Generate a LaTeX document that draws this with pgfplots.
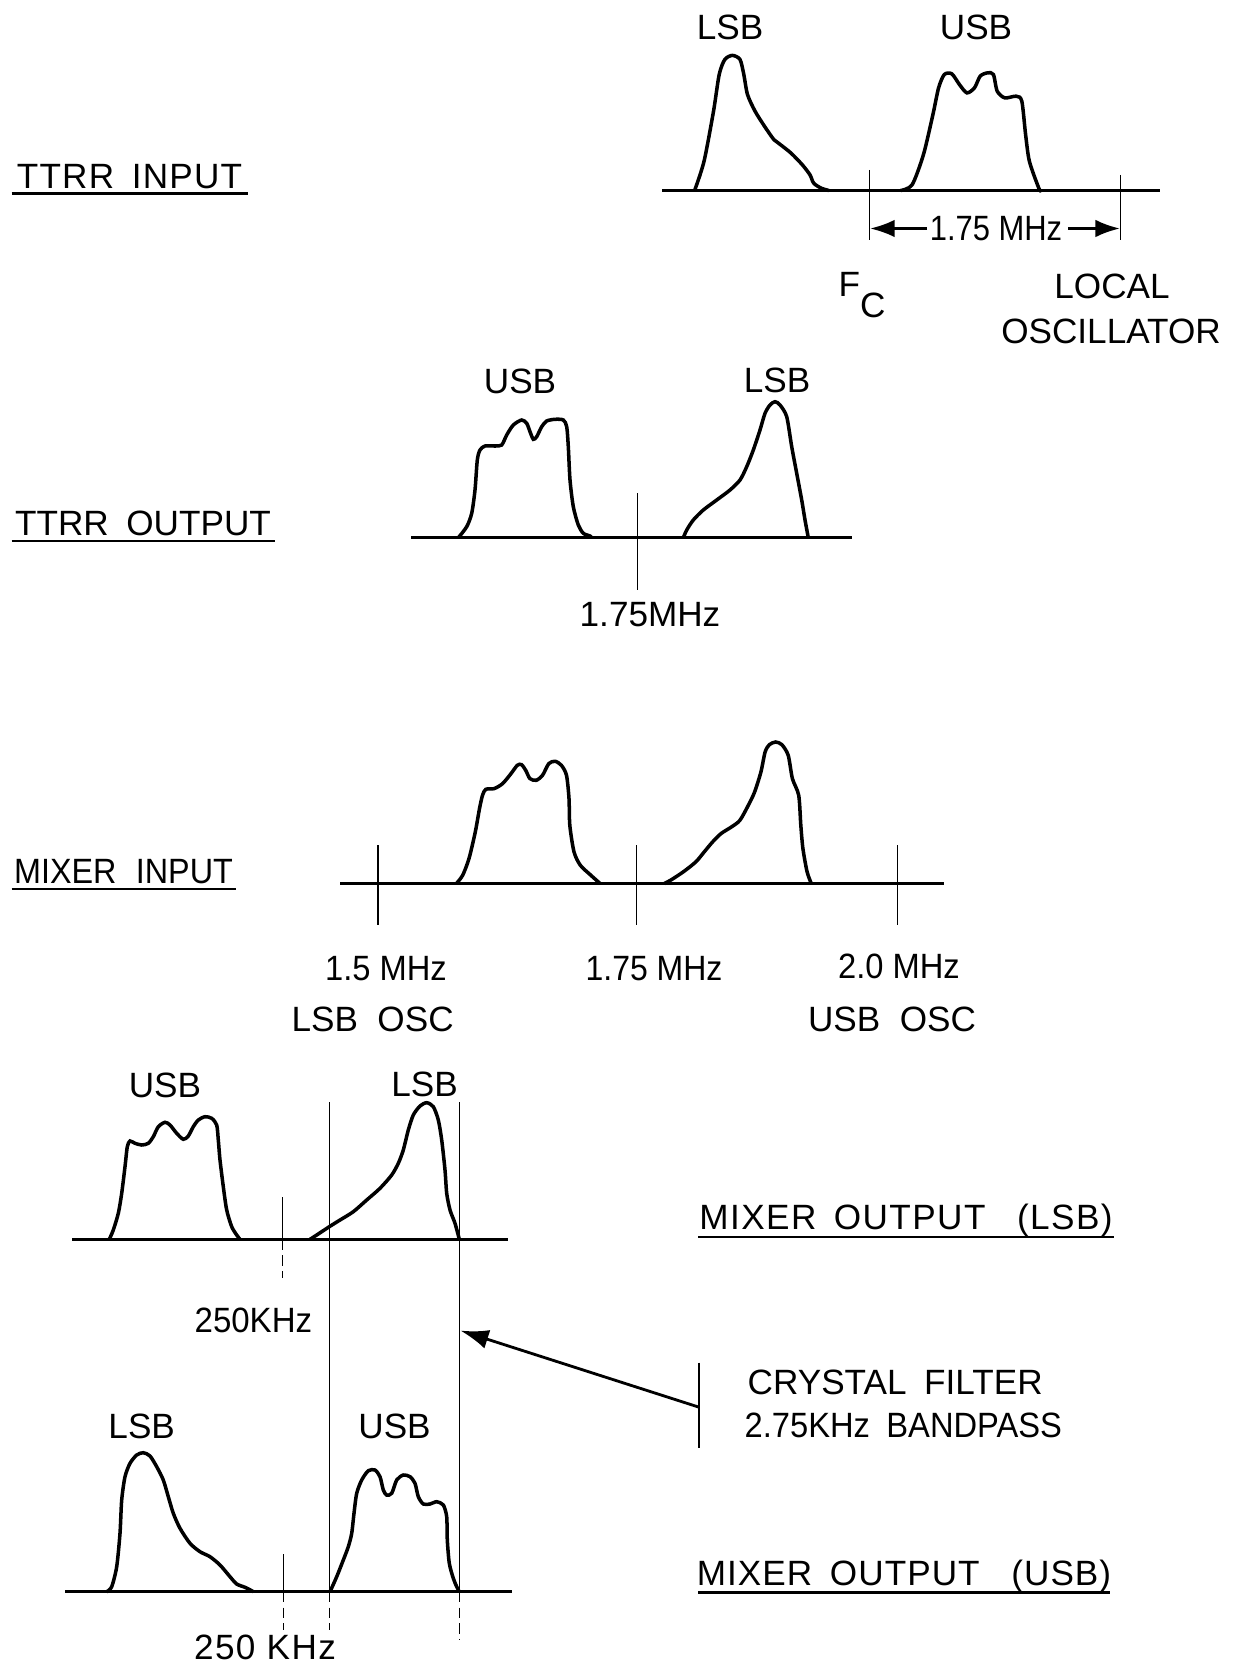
\documentclass[border=0pt]{standalone}
\usepackage{fontspec}
\setmainfont{Liberation Sans}
\usepackage{pgfplots}
\pgfplotsset{compat=1.18}
\usetikzlibrary{arrows.meta}
\newcommand{\ls}[2]{{\addfontfeature{LetterSpace=#1}#2}}
\newcommand{\sx}[2]{\scalebox{#1}[1]{#2}}
\begin{document}
\begin{tikzpicture}[
  curve/.style={line width=1.0pt, smooth, tension=0.45},
  base/.style={line width=0.9pt},
  thinl/.style={line width=0.45pt},
  dashl/.style={line width=0.45pt, dash pattern=on 3pt off 1.5pt},
  uline/.style={line width=0.7pt},
  lab/.style={font=\fontsize{10}{12}\selectfont, inner sep=0pt},
  title/.style={font=\fontsize{10}{12}\selectfont, inner sep=0pt, anchor=base},
  arr/.style={line width=0.8pt, -{Latex[length=7pt,width=5pt]}},
]
\begin{axis}[
  scale only axis, width=12.38cm, height=16.69cm,
  xmin=0, xmax=1238, ymin=0, ymax=1669, y dir=reverse,
  hide axis, clip=false,
  every axis plot/.append style={black, no markers},
]
% ---------------- Panel 1: TTRR INPUT ----------------
\addplot[base] coordinates {(662,190.5) (1160,190.5)};
\addplot[thinl] coordinates {(869.5,170) (869.5,240)};
\addplot[thinl] coordinates {(1120.5,175) (1120.5,240)};
\addplot[curve] coordinates {(694.6,190.5) (704.0,161.4) (713.5,111.3) (719.2,74.5) (724.8,59.5) (732.4,55.4) (740.0,59.5) (743.8,74.5) (747.5,94.6) (755.1,111.3) (764.6,126.4) (774.0,139.8) (779.7,144.1) (791.0,153.1) (802.4,164.9) (810.0,174.9) (813.7,183.2) (821.3,188.2) (828.9,190.5)};
\addplot[curve] coordinates {(900.7,190.5) (912.1,184.8) (923.4,154.7) (932.9,114.6) (938.6,87.8) (944.3,74.5) (951.8,73.8) (959.4,84.5) (966.9,92.9) (974.5,87.8) (980.2,76.1) (987.7,72.8) (993.4,74.5) (997.2,91.2) (1004.8,97.9) (1016.1,96.2) (1021.8,101.2) (1025.6,134.7) (1029.4,161.4) (1038.8,188.2) (1040.7,190.5)};
\addplot[arr] coordinates {(927,228.5) (870,228.5)};
\addplot[arr] coordinates {(1068,228.5) (1120,228.5)};
\node[lab] at (axis cs:996,228.5) {\sx{0.88}{1.75 MHz}};
\node[lab] at (axis cs:730,27) {LSB};
\node[lab] at (axis cs:976,27) {USB};
\node[lab, anchor=base west] at (axis cs:838,297) {F\raisebox{-2.1mm}{C}};
\node[lab, anchor=base] at (axis cs:1112,299) {LOCAL};
\node[lab, anchor=base] at (axis cs:1111,343) {OSCILLATOR};
\node[title] at (axis cs:129.5,188.3) {\ls{3.5}{TTRR\hspace{5pt}INPUT}};
\addplot[uline] coordinates {(11.7,193.5) (248,193.5)};
% ---------------- Panel 2: TTRR OUTPUT ----------------
\addplot[base] coordinates {(411,537.7) (852,537.7)};
\addplot[thinl] coordinates {(637.3,493.3) (637.3,590)};
\addplot[curve] coordinates {(458.3,537.7) (466.7,526.7) (471.7,513.3) (475,490) (477.3,460) (480,450) (485,446) (495,446) (501.7,445) (506.7,435) (513.3,425) (521.7,420) (526.7,423.3) (530,431.7) (533.3,439.3) (536.7,436.7) (541.7,426.7) (546.7,421) (555,419.3) (563.3,420) (566.7,426.7) (568.3,446.7) (570,480) (573.3,506.7) (578.3,525) (583.3,533.3) (590,536) (591.7,537.7)};
\addplot[curve] coordinates {(683.3,537.7) (686.7,530) (693.3,520) (703.3,510) (716.7,500) (730,490) (740,480) (746.7,466.7) (753.3,450) (760,430) (765,413.3) (770,405) (775,401.7) (780,405) (786.7,416.7) (791.7,446.7) (796.7,473.3) (801.7,500) (805,520) (808.3,537.7)};
\node[lab] at (axis cs:520,381) {USB};
\node[lab] at (axis cs:777,380) {LSB};
\node[lab] at (axis cs:650,615) {1.75MHz};
\node[title] at (axis cs:143,535.5) {TTRR\hspace{5pt}OUTPUT};
\addplot[uline] coordinates {(11.7,541) (274.6,541)};
% ---------------- Panel 3: MIXER INPUT ----------------
\addplot[base] coordinates {(340,883.5) (944,883.5)};
\addplot[thinl] coordinates {(377.9,845) (377.9,925)};
\addplot[thinl] coordinates {(636.6,845) (636.6,925)};
\addplot[thinl] coordinates {(897.4,845) (897.4,925)};
\addplot[curve] coordinates {(456.4,883.5) (462.7,875.2) (469.0,858.5) (475.3,831.9) (479.5,808.6) (482.5,795.3) (485.8,789.3) (494.2,788.6) (502.6,783.6) (511.0,773.6) (517.3,765.3) (521.5,764.6) (525.7,770.3) (529.9,778.6) (536.2,780.3) (542.5,775.3) (548.8,763.6) (555.1,761.3) (561.4,765.3) (566.5,775.3) (569.0,798.6) (569.8,825.2) (574.0,851.9) (580.3,865.2) (590.8,875.2) (600.1,883.5)};
\addplot[curve] coordinates {(664.3,883.5) (670.6,880.2) (683.2,871.9) (695.8,861.9) (704.2,851.9) (712.6,841.9) (721.0,833.6) (731.5,826.9) (739.9,820.3) (748.3,805.3) (754.6,792.0) (760.9,772.0) (765.1,752.0) (769.3,744.7) (775.6,742.0) (781.9,744.7) (788.2,755.3) (792.4,778.6) (798.7,795.3) (800.8,825.2) (802.9,848.5) (807.1,871.9) (811.3,883.5)};
\node[lab] at (axis cs:386,968.7) {\sx{0.93}{1.5 MHz}};
\node[lab] at (axis cs:654,968.7) {\sx{0.91}{1.75 MHz}};
\node[lab] at (axis cs:899,966.6) {\sx{0.93}{2.0 MHz}};
\node[lab] at (axis cs:372.6,1019.8) {LSB\ \ OSC};
\node[lab] at (axis cs:892,1019.8) {USB\ \ OSC};
\node[title] at (axis cs:123.5,883.5) {\sx{0.92}{MIXER\hspace{6pt}INPUT}};
\addplot[uline] coordinates {(11.7,889) (236.3,889)};
% ---------------- Panel 4: MIXER OUTPUT (LSB) ----------------
\addplot[base] coordinates {(72,1239.3) (508,1239.3)};
\addplot[thinl] coordinates {(282.5,1197) (282.5,1239.3)};
\addplot[dashl] coordinates {(282.5,1239.3) (282.5,1278)};
\addplot[curve] coordinates {(109.3,1239.3) (113.3,1230) (118.3,1213.3) (121.7,1193.3) (125,1166.7) (127.3,1146.7) (130,1141) (135,1143.3) (141.7,1145) (148.3,1143.3) (153.3,1136.7) (158.3,1126.7) (165,1122.3) (170,1125) (176.7,1133.3) (183.3,1139.3) (188.3,1136) (193.3,1126.7) (198.3,1120) (205,1116.7) (211.7,1118.3) (216.7,1125) (218.3,1140) (220,1160) (223.3,1186.7) (226.7,1210) (231.7,1226.7) (236.7,1235) (240,1239.3)};
\addplot[curve] coordinates {(310,1239.3) (316.7,1235) (329.3,1226.7) (340,1220) (353.3,1211.7) (366.7,1200) (380,1188.3) (391.7,1175) (398.3,1163.3) (403.3,1150) (408.3,1130) (413.3,1115) (420,1106) (426.7,1102.7) (433.3,1106.7) (438.3,1120) (441.7,1140) (445,1170) (446.7,1193.3) (450,1210) (455,1223.3) (459.3,1239.3)};
\node[lab] at (axis cs:165,1085) {USB};
\node[lab] at (axis cs:424.5,1084.5) {LSB};
\node[lab] at (axis cs:253.4,1320) {\sx{0.94}{250KHz}};
\node[title] at (axis cs:906,1229.5) {\ls{4}{MIXER\hspace{5pt}OUTPUT\hspace{9pt}(LSB)}};
\addplot[uline] coordinates {(698,1237) (1113.5,1237)};
% filter lines
\addplot[thinl] coordinates {(329.5,1102) (329.5,1591.7)};
\addplot[dashl] coordinates {(329.5,1591.7) (329.5,1630)};
\addplot[thinl] coordinates {(459.5,1102) (459.5,1591.7)};
\addplot[dashl] coordinates {(459.5,1591.7) (459.5,1640)};
% crystal filter arrow
\addplot[line width=0.8pt, -{Latex[length=8pt,width=5.5pt]}] coordinates {(699.4,1407.3) (460.5,1330.6)};
\addplot[thinl, line width=0.55pt] coordinates {(699.4,1362.6) (699.4,1447.8)};
\node[lab, anchor=base west] at (axis cs:747,1394.5) {CRYSTAL\hspace{5pt}FILTER};
\node[lab, anchor=base west] at (axis cs:744,1437) {\sx{0.93}{2.75KHz\hspace{5pt}BANDPASS}};
% ---------------- Panel 5: MIXER OUTPUT (USB) ----------------
\addplot[base] coordinates {(65,1591.7) (511.5,1591.7)};
\addplot[thinl] coordinates {(283.3,1554) (283.3,1591.7)};
\addplot[dashl] coordinates {(283.3,1591.7) (283.3,1630)};
\addplot[curve] coordinates {(106.7,1591.7) (111.7,1586.7) (116.7,1566.7) (120,1533.3) (121.7,1500) (125,1476.7) (130,1463.3) (136.7,1455) (143.3,1452.7) (150,1456) (156.7,1466.7) (163.3,1480) (168.3,1496.7) (173.3,1513.3) (180,1528.3) (190,1543.3) (200,1551.7) (210,1556.7) (220,1565) (230,1576.7) (236.7,1584) (245,1587.3) (251.7,1590.7) (253.3,1591.7)};
\addplot[curve] coordinates {(330,1591.7) (336.7,1576.7) (343.3,1560) (348.3,1546.7) (351.7,1533.3) (354,1513.3) (356.7,1493.3) (361.7,1480) (368.3,1470.7) (375,1470) (380,1476.7) (383.3,1490) (386.7,1495) (391.7,1493.3) (396.7,1480) (403.3,1475) (410,1476.7) (415,1483.3) (418.3,1496.7) (423.3,1504) (430,1504) (436.7,1501.7) (443.3,1505) (446.7,1516.7) (447.3,1540) (449.3,1563.3) (453.3,1578.3) (456.7,1586.7) (459.3,1591.7)};
\node[lab] at (axis cs:141.7,1426.5) {LSB};
\node[lab] at (axis cs:394.5,1426.5) {USB};
\node[lab] at (axis cs:265,1647.5) {\ls{4}{250 KHz}};
\node[title] at (axis cs:904,1585) {\ls{3}{MIXER\hspace{5pt}OUTPUT\hspace{9pt}(USB)}};
\addplot[uline] coordinates {(698,1592.5) (1110,1592.5)};
\end{axis}
\pgfresetboundingbox
\path (current axis.south west) rectangle (current axis.north east);
\end{tikzpicture}
\end{document}
